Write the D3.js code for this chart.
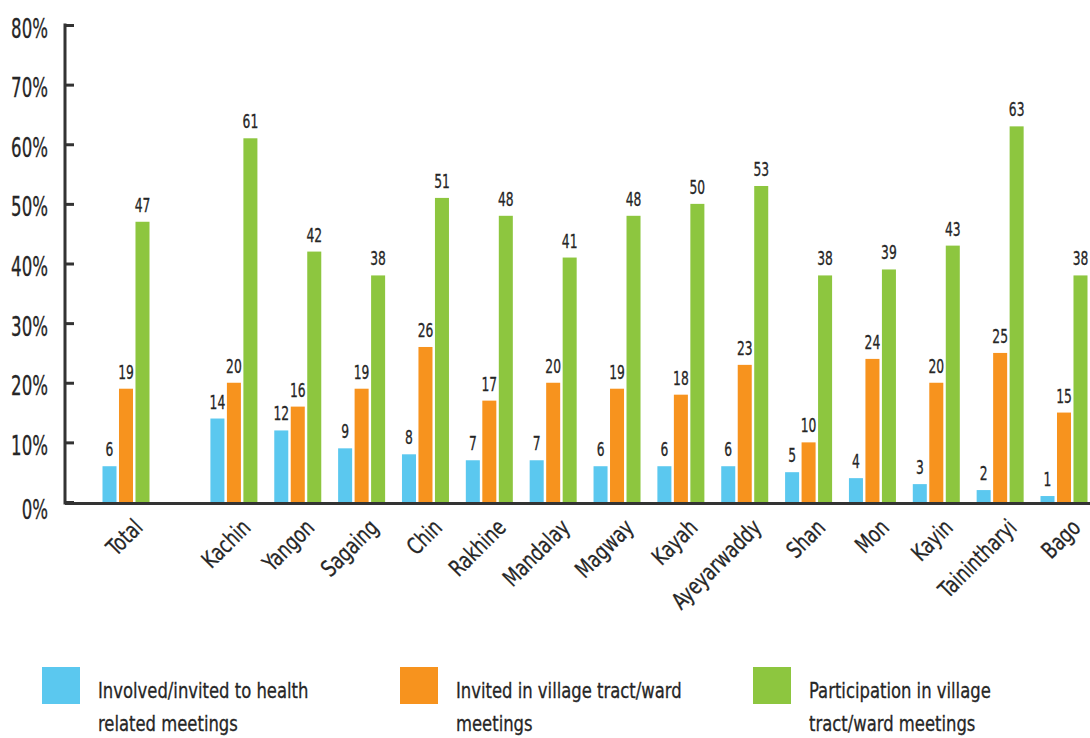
<!DOCTYPE html>
<html>
<head>
<meta charset="utf-8">
<script src="https://cdn.jsdelivr.net/npm/d3@7"></script>
<style>
  html, body { margin: 0; padding: 0; background: #fff; }
  svg { display: block; }
  text { font-family: "DejaVu Sans Condensed", "DejaVu Sans", sans-serif; fill: #262626; }
</style>
</head>
<body>
<svg id="chart" width="1090" height="738"></svg>
<script>
// ---- data ----
const categories = ["Total", "Kachin", "Yangon", "Sagaing", "Chin", "Rakhine", "Mandalay", "Magway", "Kayah", "Ayeyarwaddy", "Shan", "Mon", "Kayin", "Tainintharyi", "Bago"];
const healthMeetings = [6, 14, 12, 9, 8, 7, 7, 6, 6, 6, 5, 4, 3, 2, 1];
const invitedVillage = [19, 20, 16, 19, 26, 17, 20, 19, 18, 23, 10, 24, 20, 25, 15];
const participationVillage = [47, 61, 42, 38, 51, 48, 41, 48, 50, 53, 38, 39, 43, 63, 38];
const seriesNames = ["Involved/invited to health related meetings", "Invited in village tract/ward meetings", "Participation in village tract/ward meetings"];
const legendLines = [["Involved/invited to health", "related meetings"], ["Invited in village tract/ward", "meetings"], ["Participation in village", "tract/ward meetings"]];
const yTicks = [0, 10, 20, 30, 40, 50, 60, 70, 80];

// ---- layout ----
const colors = ["#5BC8EF", "#F7931E", "#8DC63F"];
const series = [healthMeetings, invitedVillage, participationVillage];
const svg = d3.select("#chart");
const axisX = 65, baseY = 502, topY = 25;
const gapAfterTotal = 0.69; // extra space after the Total group (in group units)
const slot = i => i === 0 ? 0 : i + gapAfterTotal;
const lastSlot = slot(categories.length - 1);

const y = d3.scaleLinear().domain([0, 80]).range([baseY, topY]);
const xCenter = d3.scaleLinear().domain([0, lastSlot]).range([126, 1064]);
const inner = d3.scaleBand().domain([0, 1, 2]).range([-23.5, 23.5]).paddingInner(0.15);

// condensed-text helper (emulates the narrow typeface of the original)
function label(parent, x, yy, str, size, sx, anchor, rot) {
  return parent.append("text")
    .attr("transform", `translate(${x},${yy})` + (rot ? ` rotate(${rot})` : "") + ` scale(${sx},1)`)
    .attr("text-anchor", anchor || "start")
    .attr("font-size", size)
    .attr("stroke", "#262626").attr("stroke-width", 0.3)
    .text(str);
}

// bars
series.forEach((vals, s) => {
  svg.append("g").selectAll("rect").data(vals).join("rect")
    .attr("x", (d, i) => xCenter(slot(i)) + inner(s))
    .attr("y", d => y(d))
    .attr("width", inner.bandwidth())
    .attr("height", d => y(0) - y(d))
    .attr("fill", colors[s]);
  const g = svg.append("g");
  vals.forEach((d, i) => {
    label(g, xCenter(slot(i)) + inner(s) + inner.bandwidth() / 2, y(d) - 10, String(d), 19, 0.72, "middle");
  });
});

// y axis
const yAxis = d3.axisRight(y).tickValues(yTicks).tickSize(9).tickFormat("");
const gy = svg.append("g").attr("transform", `translate(${axisX},0)`).call(yAxis);
gy.select(".domain").remove();
gy.selectAll(".tick line").attr("stroke", "#333").attr("stroke-width", 3);
svg.append("line").attr("x1", axisX).attr("x2", axisX).attr("y1", topY - 1.5).attr("y2", baseY + 2.5)
  .attr("stroke", "#333").attr("stroke-width", 3);
const gyl = svg.append("g");
yTicks.forEach(t => label(gyl, 48, y(t) + (t === 0 ? 17 : 12.5), t + "%", 26, 0.71, "end"));

// x axis baseline
svg.append("line").attr("x1", axisX).attr("x2", 1090).attr("y1", baseY + 1.5).attr("y2", baseY + 1.5)
  .attr("stroke", "#333").attr("stroke-width", 3);

// category labels
const gx = svg.append("g");
categories.forEach((c, i) => label(gx, xCenter(slot(i)) + 18, 529, c, 23, 0.83, "end", -45));

// legend
const legendX = [42, 400, 753];
legendX.forEach((lx, s) => {
  svg.append("rect").attr("x", lx).attr("y", 667).attr("width", 38).attr("height", 37).attr("fill", colors[s]);
  legendLines[s].forEach((line, k) => {
    label(svg, lx + 56, 698 + k * 33, line, 22, 0.83, "start");
  });
});
</script>
</body>
</html>
